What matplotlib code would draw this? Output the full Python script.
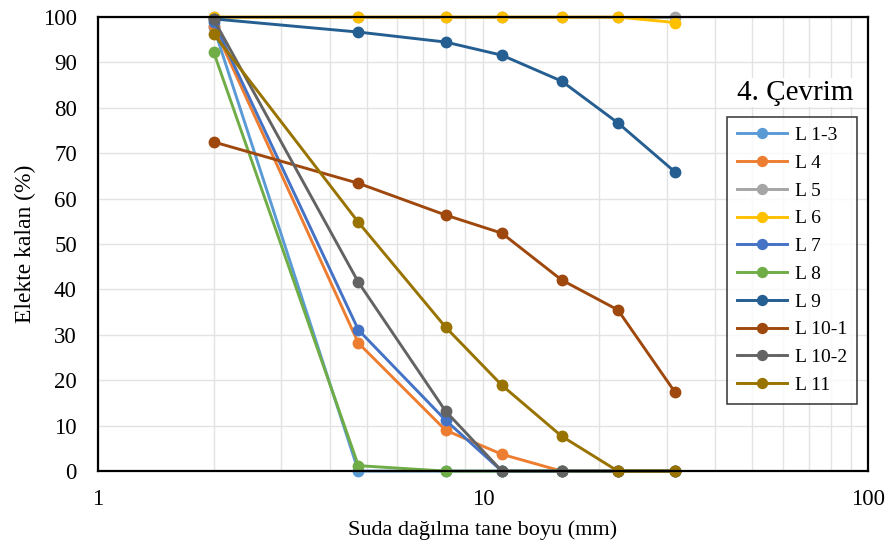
import numpy as np
import matplotlib
matplotlib.use("Agg")
from matplotlib import pyplot as plt
from matplotlib.ticker import FixedLocator, NullFormatter

plt.rcParams['font.family'] = ['Liberation Serif', 'DejaVu Serif']

# sieve sizes (mm)
sizes = [2, 4.75, 8, 11.2, 16, 22.4, 31.5]

labels = ["L 1-3", "L 4", "L 5", "L 6", "L 7", "L 8", "L 9", "L 10-1", "L 10-2", "L 11"]
colors = ["#5B9BD5", "#ED7D31", "#A5A5A5", "#FFC000", "#4472C4",
          "#70AD47", "#255E91", "#9E480E", "#636363", "#997300"]

l13 = [97.8, 0, 0, 0, 0, 0, 0]
l4 = [98.0, 28.2, 9.0, 3.7, 0, 0, 0]
l5 = [100, 100, 100, 100, 100, 100, 100]
l6 = [100, 100, 100, 100, 100, 100, 98.8]
l7 = [99.0, 31.1, 11.2, 0, 0, 0, 0]
l8 = [92.3, 1.2, 0, 0, 0, 0, 0]
l9 = [99.6, 96.7, 94.5, 91.6, 85.9, 76.7, 65.9]
l10_1 = [72.5, 63.4, 56.4, 52.4, 42.1, 35.5, 17.4]
l10_2 = [99.5, 41.6, 13.2, 0, 0, 0, 0]
l11 = [96.3, 54.8, 31.7, 18.9, 7.7, 0, 0]

series = [l13, l4, l5, l6, l7, l8, l9, l10_1, l10_2, l11]


def main():
    fig = plt.figure(figsize=(8.96, 5.51), dpi=100)
    ax = fig.add_axes([0.109, 0.145, 0.860, 0.824])

    for vals, lab, c in zip(series, labels, colors):
        ax.plot(sizes, vals, color=c, lw=2.1, marker='o', ms=7.5, label=lab,
                zorder=3, clip_on=False)

    ax.set_xscale('log')
    ax.set_xlim(1, 100)
    ax.set_ylim(0, 100)
    ax.set_yticks(np.arange(0, 101, 10))
    ax.set_xticks([1, 10, 100])
    ax.set_xticklabels(["1", "10", "100"])
    minor = [m * d for d in (1, 10) for m in range(2, 10)]
    ax.xaxis.set_minor_locator(FixedLocator(minor))
    ax.xaxis.set_minor_formatter(NullFormatter())

    ax.grid(True, which='both', axis='x', color='#E3E3E3', lw=1.0, zorder=0)
    ax.grid(True, which='major', axis='y', color='#E3E3E3', lw=1.0, zorder=0)
    ax.tick_params(which='both', length=0, labelsize=16.5)
    ax.tick_params(axis='x', pad=13)
    ax.tick_params(axis='y', pad=15)
    for s in ax.spines.values():
        s.set_color('black')
        s.set_linewidth(1.6)
        s.set_zorder(4)

    ax.set_xlabel("Suda dağılma tane boyu (mm)", fontsize=16, labelpad=7)
    ax.set_ylabel("Elekte kalan (%)", fontsize=17, labelpad=5)

    leg = ax.legend(loc='upper left', bbox_to_anchor=(0.817, 0.780),
                    borderaxespad=0, fontsize=14, frameon=True, fancybox=False,
                    edgecolor='black', handlelength=2.6, handletextpad=0.4,
                    borderpad=0.5, labelspacing=0.52, markerscale=0.95)
    leg.get_frame().set_linewidth(1.1)
    leg.set_zorder(6)
    ax.text(0.830, 0.833, "4. Çevrim", transform=ax.transAxes,
            fontsize=21, ha='left', va='center', zorder=5,
            bbox=dict(facecolor='white', edgecolor='none', pad=1))

    plt.savefig("out.png", dpi=100)


if __name__ == "__main__":
    main()
